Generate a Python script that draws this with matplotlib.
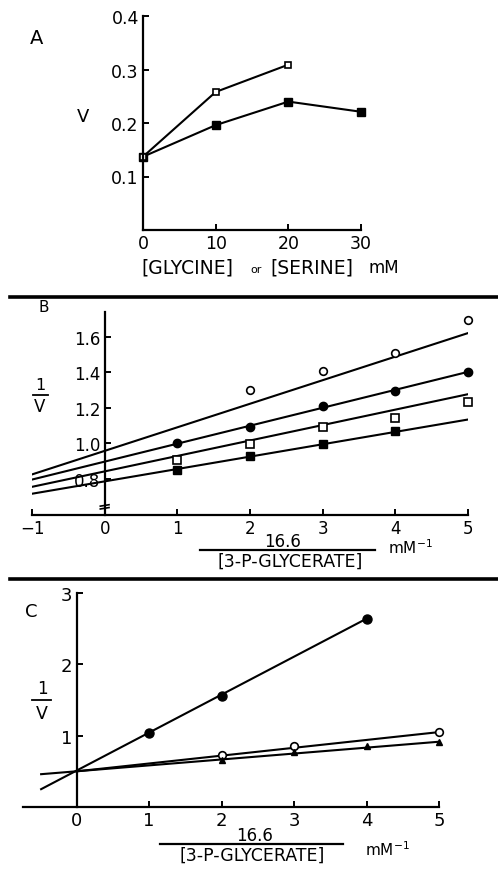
import numpy as np
import matplotlib
matplotlib.use("Agg")
import matplotlib.pyplot as plt
from matplotlib.lines import Line2D

plt.rcParams['font.family'] = ['DejaVu Sans']

W, H = 498, 870

# ── Panel A: V vs [glycine] / [serine] ─────────────────────────────────────
a_open_x = [0, 10, 20]
a_open_v = [0.137, 0.258, 0.309]
a_fill_x = [0, 10, 20, 30]
a_fill_v = [0.137, 0.196, 0.240, 0.221]

# ── Panel B: 1/V vs 16.6/[3-P-glycerate] ───────────────────────────────────
b_ocirc_x = [2, 3, 4, 5]
b_ocirc_y = [1.297, 1.407, 1.509, 1.693]
b_fcirc_x = [1, 2, 3, 4, 5]
b_fcirc_y = [1.000, 1.093, 1.207, 1.293, 1.402]
b_osq_x = [1, 2, 3, 4, 5]
b_osq_y = [0.905, 0.994, 1.093, 1.141, 1.233]
b_fsq_x = [1, 2, 3, 4]
b_fsq_y = [0.847, 0.927, 0.996, 1.067]
# fitted lines (end points)
b_fit_x = [-1, 5]
b_fit_ocirc = [0.823, 1.621]
b_fit_fcirc = [0.794, 1.402]
b_fit_osq = [0.753, 1.276]
b_fit_fsq = [0.714, 1.133]

# ── Panel C ─────────────────────────────────────────────────────────────────
c_fcirc_x = [1, 2, 4]
c_fcirc_y = [1.04, 1.56, 2.64]
c_ocirc_x = [2, 3, 5]
c_ocirc_y = [0.73, 0.86, 1.05]
c_tri_x = [2, 3, 4, 5]
c_tri_y = [0.66, 0.77, 0.86, 0.915]
c_fit_fcirc_x = [-0.49, 4]
c_fit_fcirc_y = [0.25, 2.64]
c_fit_ocirc_x = [0, 5]
c_fit_ocirc_y = [0.50, 1.05]
c_fit_tri_x = [-0.49, 5]
c_fit_tri_y = [0.46, 0.915]

LW = 1.5


def rect(x0, x1, y_top, y_bot):
    return [x0 / W, 1 - y_bot / H, (x1 - x0) / W, (y_bot - y_top) / H]


def px(x, y):
    return x / W, 1 - y / H


def style(ax, fs):
    for s in ["top", "right"]:
        ax.spines[s].set_visible(False)
    for s in ["left", "bottom"]:
        ax.spines[s].set_linewidth(1.6)
    ax.tick_params(direction="in", length=4, width=1.4, labelsize=fs, pad=3)


def frac_bar(x0, x1, y, lw=1.3):
    fig.add_artist(Line2D([x0 / W, x1 / W], [1 - y / H] * 2, color="black", lw=lw,
                          transform=fig.transFigure))


fig = plt.figure(figsize=(W / 100, H / 100), dpi=100)

# Panel A
axA = fig.add_axes(rect(143, 361, 17, 231))
style(axA, 12.5)
axA.plot(a_fill_x, a_fill_v, "-s", color="black", lw=LW, ms=6, mfc="black", clip_on=False)
axA.plot(a_open_x, a_open_v, "-s", color="black", lw=LW, ms=5, mfc="white", mew=1.2, clip_on=False)
axA.set_xlim(0, 30)
axA.set_ylim(0, 0.4)
axA.set_xticks([0, 10, 20, 30])
axA.set_yticks([0.1, 0.2, 0.3, 0.4])
axA.set_yticklabels(["0.1", "0.2", "0.3", "0.4"])
fig.text(*px(30, 38), "A", fontsize=14, va="center", ha="left")
fig.text(*px(83, 117), "V", fontsize=13, va="center", ha="center")
fig.text(*px(141, 268), "[GLYCINE]", fontsize=13.5, va="center", ha="left")
fig.text(*px(256, 270), "or", fontsize=8, va="center", ha="center")
fig.text(*px(270, 268), "[SERINE]", fontsize=13.5, va="center", ha="left")
fig.text(*px(368, 268), "mM", fontsize=12, va="center", ha="left")

# separator lines
for yy in (298, 580):
    frac_bar(10, W, yy, lw=2.6)

# Panel B
axB = fig.add_axes(rect(32, 468, 313, 516))
style(axB, 12)
axB.spines["left"].set_position(("data", 0))
axB.set_xlim(-1, 5)
axB.set_ylim(0.594, 1.74)
axB.plot(b_fit_x, b_fit_ocirc, color="black", lw=LW)
axB.plot(b_fit_x, b_fit_fcirc, color="black", lw=LW)
axB.plot(b_fit_x, b_fit_osq, color="black", lw=LW)
axB.plot(b_fit_x, b_fit_fsq, color="black", lw=LW)
axB.plot(b_ocirc_x, b_ocirc_y, "o", ms=5.5, mfc="white", mec="black", mew=1.2, clip_on=False)
axB.plot(b_fcirc_x, b_fcirc_y, "o", ms=6, mfc="black", mec="black", clip_on=False)
axB.plot(b_osq_x, b_osq_y, "s", ms=5.5, mfc="white", mec="black", mew=1.2, clip_on=False)
axB.plot(b_fsq_x, b_fsq_y, "s", ms=6, mfc="black", mec="black", clip_on=False)
axB.set_xticks([-1, 0, 1, 2, 3, 4, 5])
axB.set_xticklabels(["\u22121", "0", "1", "2", "3", "4", "5"])
axB.set_yticks([0.8, 1.0, 1.2, 1.4, 1.6])
axB.set_yticklabels(["0.8", "1.0", "1.2", "1.4", "1.6"])
# axis break mark
for yb in (0.632, 0.648):
    axB.plot([-0.06, 0.06], [yb - 0.004, yb + 0.004], color="black", lw=1.2, clip_on=False)
fig.text(*px(38, 307), "B", fontsize=11, va="center", ha="left")
fig.text(*px(40, 386), "1", fontsize=11.5, va="center", ha="center")
frac_bar(33, 48, 396)
fig.text(*px(40, 407), "V", fontsize=12, va="center", ha="center")
fig.text(*px(283, 542), "16.6", fontsize=12, va="center", ha="center")
frac_bar(200, 375, 551, lw=1.6)
fig.text(*px(290, 562), "[3-P-GLYCERATE]", fontsize=12.5, va="center", ha="center")
fig.text(*px(388, 548), "mM$^{-1}$", fontsize=11, va="center", ha="left")

# Panel C
axC = fig.add_axes(rect(23, 439, 594, 808))
style(axC, 13)
axC.spines["left"].set_position(("data", 0))
axC.set_xlim(-0.74, 5)
axC.set_ylim(0, 3)
axC.plot(c_fit_fcirc_x, c_fit_fcirc_y, color="black", lw=LW)
axC.plot(c_fit_ocirc_x, c_fit_ocirc_y, color="black", lw=LW)
axC.plot(c_fit_tri_x, c_fit_tri_y, color="black", lw=LW)
axC.plot(c_fcirc_x, c_fcirc_y, "o", ms=6.5, mfc="black", mec="black", clip_on=False)
axC.plot(c_ocirc_x, c_ocirc_y, "o", ms=5.5, mfc="white", mec="black", mew=1.2, clip_on=False)
axC.plot(c_tri_x, c_tri_y, "^", ms=4.5, mfc="black", mec="black", clip_on=False)
axC.set_xticks([0, 1, 2, 3, 4, 5])
axC.set_yticks([1, 2, 3])
fig.text(*px(25, 612), "C", fontsize=13, va="center", ha="left")
fig.text(*px(42, 689), "1", fontsize=12, va="center", ha="center")
frac_bar(32, 51, 701)
fig.text(*px(42, 714), "V", fontsize=12.5, va="center", ha="center")
fig.text(*px(255, 836), "16.6", fontsize=12, va="center", ha="center")
frac_bar(160, 343, 845, lw=1.6)
fig.text(*px(252, 856), "[3-P-GLYCERATE]", fontsize=12.5, va="center", ha="center")
fig.text(*px(365, 850), "mM$^{-1}$", fontsize=11, va="center", ha="left")

fig.savefig("out.png", dpi=100, facecolor="white")
